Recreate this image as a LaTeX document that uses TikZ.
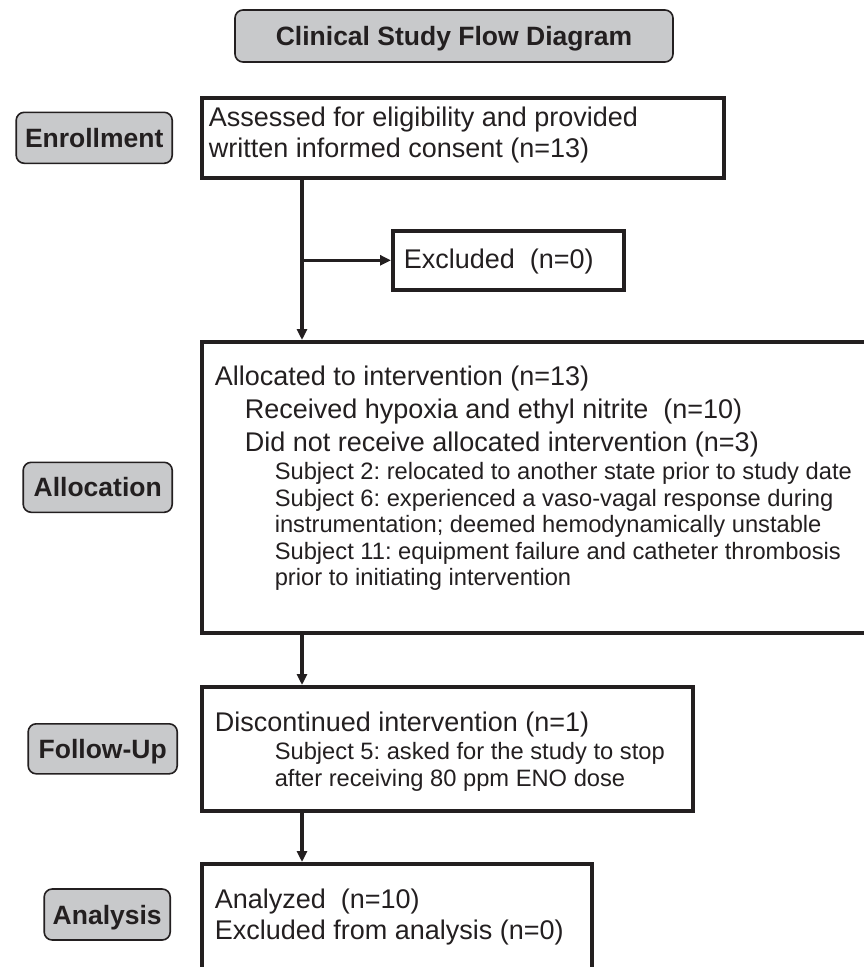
\documentclass[tikz,border=0pt]{standalone}
\usepackage{fontspec}
\setmainfont{Liberation Sans}
\usetikzlibrary{positioning, arrows.meta}
\frenchspacing

\definecolor{inkgray}{HTML}{231F20}
\definecolor{stagegray}{HTML}{C8C9CB}
\newcommand{\mainsize}{\fontsize{27}{26.5}\selectfont}
\newcommand{\subsize}{\fontsize{23.7}{26.5}\selectfont}

\begin{document}
\begin{tikzpicture}[x=1pt, y=-1pt, >={Triangle[length=11pt, width=10pt]},
    stage/.style={draw=inkgray, line width=1.6pt, fill=stagegray, rounded corners=8pt,
        text=inkgray, font=\fontsize{26.5}{26.5}\selectfont\bfseries,
        text height=19pt, text depth=0pt, inner xsep=0pt},
    flowbox/.style={draw=inkgray, line width=3.6pt, text=inkgray, font=\mainsize,
        align=flush left, anchor=north west, inner xsep=13pt, inner ysep=0pt},
    link/.style={->, draw=inkgray, line width=3.4pt}]
  \useasboundingbox (0,0) rectangle (864,967);

  % boxes of the flow
  \node[flowbox, inner xsep=7pt, text width=508pt, text height=29pt, text depth=51pt]
    (enroll) at (200,96)
    {Assessed for eligibility and provided\\[4.5pt]written informed consent (n=13)};
  \node[flowbox, inner xsep=11pt, text width=209pt, text height=37.5pt, text depth=21.5pt]
    (excl) at (391,229) {Excluded\ \ (n=0)};
  \node[flowbox, text width=680pt, text height=44pt, text depth=247pt]
    (alloc) at (200,340)
    {Allocated to intervention (n=13)\\[6.5pt]
     \hspace*{30pt}Received hypoxia and ethyl nitrite\ \ (n=10)\\[6.5pt]
     \hspace*{30pt}Did not receive allocated intervention (n=3)\\[1.5pt]
     \subsize\hspace*{60pt}Subject 2: relocated to another state prior to study date\\
     \hspace*{60pt}Subject 6: experienced a vaso-vagal response during\\
     \hspace*{60pt}instrumentation; deemed hemodynamically unstable\\
     \hspace*{60pt}Subject 11: equipment failure and catheter thrombosis\\
     \hspace*{60pt}prior to initiating intervention};
  \node[flowbox, text width=465pt, text height=45pt, text depth=79pt]
    (follow) at (200,685)
    {Discontinued intervention (n=1)\\[1.5pt]
     \subsize\hspace*{60pt}Subject 5: asked for the study to stop\\
     \hspace*{60pt}after receiving 80 ppm ENO dose};
  \node[flowbox, text width=364pt, text height=45pt, text depth=138pt]
    (ana) at (200,862)
    {Analyzed\ \ (n=10)\\[4.5pt]Excluded from analysis (n=0)};

  % stage labels
  \node[stage, minimum width=438pt, minimum height=52pt] (title) at (454,36) {Clinical Study Flow Diagram};
  \node[stage, minimum width=156pt, minimum height=51pt, left=27pt of enroll] (enrollment) {Enrollment};
  \node[stage, minimum width=149pt, minimum height=50pt, left=27pt of alloc] (allocation) {Allocation};
  \node[stage, minimum width=149pt, minimum height=50pt, left=22pt of follow] (followup) {Follow-Up};
  \node[stage, minimum width=126pt, minimum height=51pt, anchor=east] (analysis) at (171,914.5) {Analysis};

  % arrows
  \coordinate (spine) at (302,0);
  \draw[link] (enroll.south -| spine) -- (alloc.north -| spine);
  \draw[link] (spine |- excl.west) -- (excl.west);
  \draw[link] (alloc.south -| spine) -- (follow.north -| spine);
  \draw[link] (follow.south -| spine) -- (ana.north -| spine);
\end{tikzpicture}
\end{document}
